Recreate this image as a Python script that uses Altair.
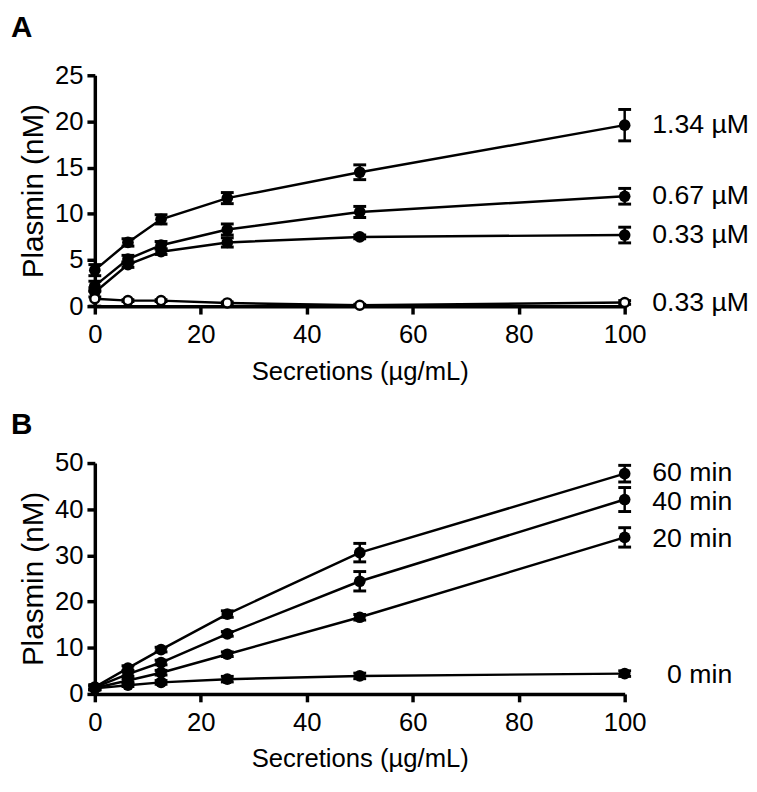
import altair as alt
import pandas as pd

# ---- data ----
conc_x = [0, 6.25, 12.5, 25, 50, 100]

# Panel A (plasminogen concentrations)
a_series = ["1.34 µM", "0.67 µM", "0.33 µM", "0.33 µM (open)"]
a_134 = [3.9, 6.9, 9.4, 11.7, 14.5, 19.6]
a_134_err = [0.6, 0.4, 0.5, 0.6, 0.8, 1.7]
a_067 = [2.2, 5.1, 6.6, 8.3, 10.2, 11.9]
a_067_err = [0.5, 0.4, 0.4, 0.6, 0.6, 0.85]
a_033 = [1.5, 4.5, 5.9, 6.9, 7.5, 7.7]
a_033_err = [0.5, 0.3, 0.3, 0.5, 0.2, 0.85]
a_033o = [0.8, 0.6, 0.6, 0.35, 0.1, 0.4]
a_033o_err = [0.8, 0.1, 0.1, 0.1, 0.1, 0.2]
a_label_text = ["1.34 µM", "0.67 µM", "0.33 µM", "0.33 µM"]
a_label_y = [19.6, 11.9, 7.7, 0.3]

# Panel B (incubation time)
b_series = ["60 min", "40 min", "20 min", "0 min"]
b_60 = [1.5, 5.6, 9.6, 17.3, 30.6, 47.7]
b_60_err = [0.5, 0.5, 0.5, 0.7, 2.0, 1.8]
b_40 = [1.4, 4.3, 6.8, 13.0, 24.4, 42.1]
b_40_err = [0.5, 0.5, 0.5, 0.5, 2.1, 2.6]
b_20 = [1.3, 2.9, 4.6, 8.6, 16.6, 33.9]
b_20_err = [0.4, 0.4, 0.5, 0.5, 0.6, 2.1]
b_0 = [1.2, 1.9, 2.5, 3.2, 3.9, 4.4]
b_0_err = [0.3, 0.3, 0.4, 0.6, 0.6, 0.6]
b_label_text = ["60 min", "40 min", "20 min", "0 min"]
b_label_y = [47.9, 41.5, 33.5, 4.0]

x_ticks = [0, 20, 40, 60, 80, 100]
a_y_ticks = [0, 5, 10, 15, 20, 25]
b_y_ticks = [0, 10, 20, 30, 40, 50]

FONT = "Liberation Sans"
W, H = 537, 234


def make_df(names, vals, errs, opens):
    rows = []
    for name, v, e, o in zip(names, vals, errs, opens):
        for xi, yi, ei in zip(conc_x, v, e):
            rows.append({"series": name, "x": xi, "y": yi,
                         "lo": yi - ei, "hi": yi + ei, "open": o})
    return pd.DataFrame(rows)


def panel(df, labels_df, ymax, yticks, letter, label_dx, title_offset):
    xs = alt.Scale(domain=[0, 100], nice=False)
    ys = alt.Scale(domain=[0, ymax], nice=False)
    xenc = alt.X("x:Q", scale=xs,
                 axis=alt.Axis(values=x_ticks, title="Secretions (µg/mL)"))
    yenc = alt.Y("y:Q", scale=ys,
                 axis=alt.Axis(values=yticks, title="Plasmin (nM)"))
    base = alt.Chart(df)
    lines = base.mark_line(color="black", strokeWidth=2.5).encode(
        x=xenc, y=yenc, detail="series:N")
    rules = base.mark_rule(color="black", strokeWidth=2.5, opacity=1).encode(
        x="x:Q", y="lo:Q", y2="hi:Q")
    cap_lo = base.mark_tick(color="black", orient="horizontal", size=13,
                            thickness=3, opacity=1).encode(x="x:Q", y="lo:Q")
    cap_hi = base.mark_tick(color="black", orient="horizontal", size=13,
                            thickness=3, opacity=1).encode(x="x:Q", y="hi:Q")
    filled = base.transform_filter("!datum.open").mark_point(
        filled=True, color="black", size=140, opacity=1).encode(x="x:Q", y="y:Q")
    hollow = base.transform_filter("datum.open").mark_point(
        filled=False, color="black", fill="white", fillOpacity=1,
        size=85, strokeWidth=2.5, opacity=1).encode(x="x:Q", y="y:Q")
    labels = alt.Chart(labels_df).mark_text(
        align="right", baseline="middle", dx=label_dx, fontSize=27,
        font=FONT, color="black").encode(x="lx:Q", y="ly:Q", text="t:N")
    return alt.layer(lines, rules, cap_lo, cap_hi, filled, hollow, labels).properties(
        width=W, height=H,
        title=alt.TitleParams(letter, anchor="start", frame="bounds",
                              fontSize=30, fontWeight="bold", font=FONT,
                              color="black", offset=title_offset,
                              baseline="alphabetic", dx=-8))


dfA = make_df(a_series, [a_134, a_067, a_033, a_033o],
              [a_134_err, a_067_err, a_033_err, a_033o_err],
              [False, False, False, True])
dfB = make_df(b_series, [b_60, b_40, b_20, b_0],
              [b_60_err, b_40_err, b_20_err, b_0_err],
              [False, False, False, False])
labA = pd.DataFrame({"lx": [100] * 4, "ly": a_label_y, "t": a_label_text})
labB = pd.DataFrame({"lx": [100] * 4, "ly": b_label_y, "t": b_label_text})

pA = panel(dfA, labA, 25, a_y_ticks, "A", 126, -4)
pB = panel(dfB, labB, 50, b_y_ticks, "B", 109, -14)

chart = alt.vconcat(pA, pB, spacing=27).properties(
    padding={"left": 3, "top": 0, "right": 0, "bottom": 0}
).configure_view(stroke=None).configure_axis(
    grid=False, domainColor="black", domainWidth=3.5, tickColor="black",
    tickWidth=3.5, tickSize=8, labelFont=FONT, labelFontSize=26,
    labelColor="black", titleFont=FONT, titleFontSize=26,
    titleFontWeight="normal", titleColor="black",
    labelFlush=False, labelOverlap=False
).configure_axisX(labelPadding=8, titlePadding=11
).configure_axisY(labelPadding=4, titlePadding=6, titleFontSize=30
).configure_concat(spacing=27)

chart.save("out.html", embed_options={"renderer": "svg", "actions": False})
